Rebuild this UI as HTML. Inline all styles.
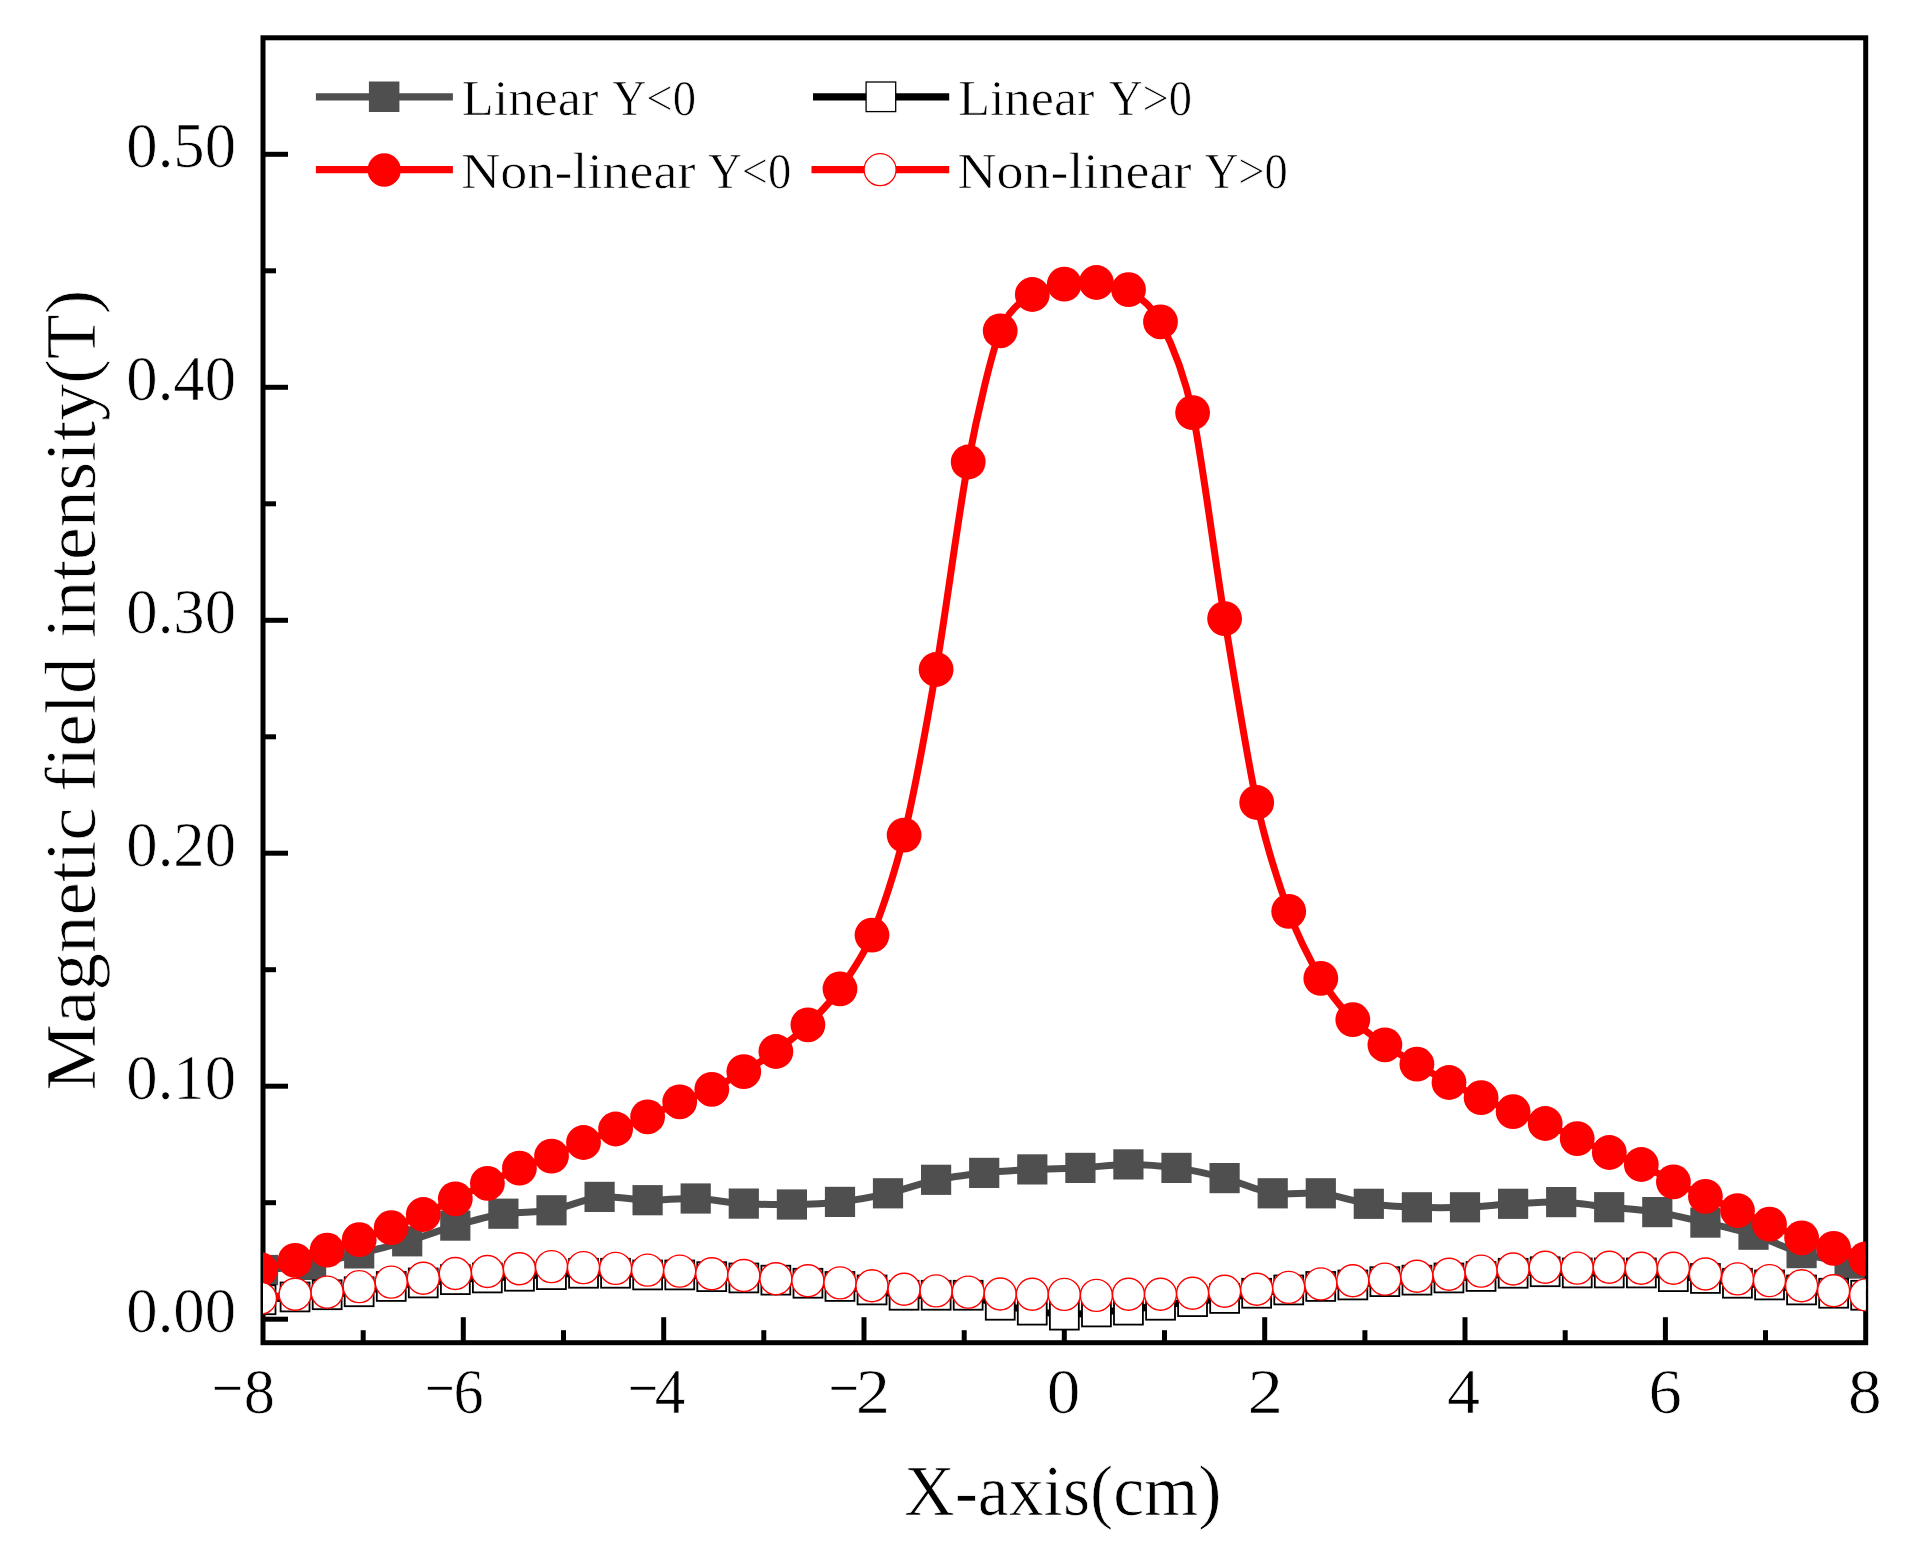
<!DOCTYPE html><html><head><meta charset="utf-8"><title>Magnetic field intensity</title>
<style>html,body{margin:0;padding:0;background:#fff}svg{display:block}text{font-family:"Liberation Serif",serif;fill:#000;stroke:#fff;stroke-width:0.7px}</style></head><body>
<svg width="1909" height="1549" viewBox="0 0 1909 1549">
<rect width="1909" height="1549" fill="#fff"/>
<defs><clipPath id="pc"><rect x="263.0" y="37.8" width="1602.7" height="1304.9"/></clipPath></defs>
<rect x="263.0" y="37.8" width="1602.7" height="1304.9" fill="none" stroke="#000" stroke-width="5"/>
<line x1="363.2" y1="1342.7" x2="363.2" y2="1330.2" stroke="#000" stroke-width="5"/>
<line x1="463.3" y1="1342.7" x2="463.3" y2="1317.2" stroke="#000" stroke-width="5"/>
<line x1="563.5" y1="1342.7" x2="563.5" y2="1330.2" stroke="#000" stroke-width="5"/>
<line x1="663.7" y1="1342.7" x2="663.7" y2="1317.2" stroke="#000" stroke-width="5"/>
<line x1="763.8" y1="1342.7" x2="763.8" y2="1330.2" stroke="#000" stroke-width="5"/>
<line x1="864.0" y1="1342.7" x2="864.0" y2="1317.2" stroke="#000" stroke-width="5"/>
<line x1="964.2" y1="1342.7" x2="964.2" y2="1330.2" stroke="#000" stroke-width="5"/>
<line x1="1064.3" y1="1342.7" x2="1064.3" y2="1317.2" stroke="#000" stroke-width="5"/>
<line x1="1164.5" y1="1342.7" x2="1164.5" y2="1330.2" stroke="#000" stroke-width="5"/>
<line x1="1264.7" y1="1342.7" x2="1264.7" y2="1317.2" stroke="#000" stroke-width="5"/>
<line x1="1364.9" y1="1342.7" x2="1364.9" y2="1330.2" stroke="#000" stroke-width="5"/>
<line x1="1465.0" y1="1342.7" x2="1465.0" y2="1317.2" stroke="#000" stroke-width="5"/>
<line x1="1565.2" y1="1342.7" x2="1565.2" y2="1330.2" stroke="#000" stroke-width="5"/>
<line x1="1665.4" y1="1342.7" x2="1665.4" y2="1317.2" stroke="#000" stroke-width="5"/>
<line x1="1765.5" y1="1342.7" x2="1765.5" y2="1330.2" stroke="#000" stroke-width="5"/>
<line x1="263.0" y1="1319.2" x2="288.0" y2="1319.2" stroke="#000" stroke-width="5"/>
<line x1="263.0" y1="1202.7" x2="276.0" y2="1202.7" stroke="#000" stroke-width="5"/>
<line x1="263.0" y1="1086.2" x2="288.0" y2="1086.2" stroke="#000" stroke-width="5"/>
<line x1="263.0" y1="969.7" x2="276.0" y2="969.7" stroke="#000" stroke-width="5"/>
<line x1="263.0" y1="853.2" x2="288.0" y2="853.2" stroke="#000" stroke-width="5"/>
<line x1="263.0" y1="736.8" x2="276.0" y2="736.8" stroke="#000" stroke-width="5"/>
<line x1="263.0" y1="620.3" x2="288.0" y2="620.3" stroke="#000" stroke-width="5"/>
<line x1="263.0" y1="503.8" x2="276.0" y2="503.8" stroke="#000" stroke-width="5"/>
<line x1="263.0" y1="387.3" x2="288.0" y2="387.3" stroke="#000" stroke-width="5"/>
<line x1="263.0" y1="270.8" x2="276.0" y2="270.8" stroke="#000" stroke-width="5"/>
<line x1="263.0" y1="154.3" x2="288.0" y2="154.3" stroke="#000" stroke-width="5"/>
<g clip-path="url(#pc)">
<path d="M263.0 1270.0C269.7 1269.3 297.6 1267.2 311.1 1264.9C324.5 1262.6 345.7 1256.7 359.2 1253.4C372.6 1250.1 393.8 1245.2 407.2 1241.3C420.7 1237.4 441.9 1229.5 455.3 1225.6C468.8 1221.7 489.9 1215.8 503.4 1213.7C516.9 1211.6 538.0 1212.7 551.5 1210.3C564.9 1207.9 586.1 1198.3 599.6 1196.9C613.0 1195.5 634.2 1200.0 647.6 1200.2C661.1 1200.4 682.3 1198.0 695.7 1198.5C709.2 1199.0 730.3 1202.8 743.8 1203.6C757.3 1204.4 778.4 1204.7 791.9 1204.5C805.3 1204.3 826.5 1203.5 840.0 1201.9C853.4 1200.3 874.6 1196.4 888.0 1193.3C901.5 1190.2 922.7 1182.7 936.1 1179.8C949.6 1176.9 970.7 1174.4 984.2 1172.9C997.7 1171.4 1018.8 1170.1 1032.3 1169.4C1045.7 1168.7 1066.9 1168.6 1080.4 1167.9C1093.8 1167.2 1115.0 1164.4 1128.4 1164.4C1141.9 1164.4 1163.1 1166.0 1176.5 1167.9C1190.0 1169.8 1211.1 1174.5 1224.6 1178.1C1238.1 1181.7 1259.2 1191.2 1272.7 1193.3C1286.1 1195.4 1307.3 1191.8 1320.8 1193.3C1334.2 1194.8 1355.4 1201.8 1368.8 1203.8C1382.3 1205.8 1403.5 1206.8 1416.9 1207.3C1430.4 1207.8 1451.5 1207.8 1465.0 1207.3C1478.5 1206.8 1499.6 1204.5 1513.1 1203.8C1526.5 1203.1 1547.7 1201.6 1561.2 1202.1C1574.6 1202.6 1595.8 1205.8 1609.2 1207.2C1622.7 1208.6 1643.9 1209.9 1657.3 1212.1C1670.8 1214.3 1691.9 1219.4 1705.4 1222.6C1718.9 1225.8 1740.0 1230.4 1753.5 1234.7C1766.9 1239.0 1788.1 1249.1 1801.6 1253.1C1815.0 1257.1 1842.9 1262.1 1849.6 1263.6" fill="none" stroke="#4f4f4f" stroke-width="7" stroke-linejoin="round"/>
<rect x="247.9" y="1254.9" width="30.2" height="30.2" fill="#4f4f4f"/>
<rect x="296.0" y="1249.8" width="30.2" height="30.2" fill="#4f4f4f"/>
<rect x="344.1" y="1238.3" width="30.2" height="30.2" fill="#4f4f4f"/>
<rect x="392.1" y="1226.2" width="30.2" height="30.2" fill="#4f4f4f"/>
<rect x="440.2" y="1210.5" width="30.2" height="30.2" fill="#4f4f4f"/>
<rect x="488.3" y="1198.6" width="30.2" height="30.2" fill="#4f4f4f"/>
<rect x="536.4" y="1195.2" width="30.2" height="30.2" fill="#4f4f4f"/>
<rect x="584.5" y="1181.8" width="30.2" height="30.2" fill="#4f4f4f"/>
<rect x="632.5" y="1185.1" width="30.2" height="30.2" fill="#4f4f4f"/>
<rect x="680.6" y="1183.4" width="30.2" height="30.2" fill="#4f4f4f"/>
<rect x="728.7" y="1188.5" width="30.2" height="30.2" fill="#4f4f4f"/>
<rect x="776.8" y="1189.4" width="30.2" height="30.2" fill="#4f4f4f"/>
<rect x="824.9" y="1186.8" width="30.2" height="30.2" fill="#4f4f4f"/>
<rect x="872.9" y="1178.2" width="30.2" height="30.2" fill="#4f4f4f"/>
<rect x="921.0" y="1164.7" width="30.2" height="30.2" fill="#4f4f4f"/>
<rect x="969.1" y="1157.8" width="30.2" height="30.2" fill="#4f4f4f"/>
<rect x="1017.2" y="1154.3" width="30.2" height="30.2" fill="#4f4f4f"/>
<rect x="1065.3" y="1152.8" width="30.2" height="30.2" fill="#4f4f4f"/>
<rect x="1113.3" y="1149.3" width="30.2" height="30.2" fill="#4f4f4f"/>
<rect x="1161.4" y="1152.8" width="30.2" height="30.2" fill="#4f4f4f"/>
<rect x="1209.5" y="1163.0" width="30.2" height="30.2" fill="#4f4f4f"/>
<rect x="1257.6" y="1178.2" width="30.2" height="30.2" fill="#4f4f4f"/>
<rect x="1305.7" y="1178.2" width="30.2" height="30.2" fill="#4f4f4f"/>
<rect x="1353.7" y="1188.7" width="30.2" height="30.2" fill="#4f4f4f"/>
<rect x="1401.8" y="1192.2" width="30.2" height="30.2" fill="#4f4f4f"/>
<rect x="1449.9" y="1192.2" width="30.2" height="30.2" fill="#4f4f4f"/>
<rect x="1498.0" y="1188.7" width="30.2" height="30.2" fill="#4f4f4f"/>
<rect x="1546.1" y="1187.0" width="30.2" height="30.2" fill="#4f4f4f"/>
<rect x="1594.1" y="1192.1" width="30.2" height="30.2" fill="#4f4f4f"/>
<rect x="1642.2" y="1197.0" width="30.2" height="30.2" fill="#4f4f4f"/>
<rect x="1690.3" y="1207.5" width="30.2" height="30.2" fill="#4f4f4f"/>
<rect x="1738.4" y="1219.6" width="30.2" height="30.2" fill="#4f4f4f"/>
<rect x="1786.5" y="1238.0" width="30.2" height="30.2" fill="#4f4f4f"/>
<rect x="1834.5" y="1248.5" width="30.2" height="30.2" fill="#4f4f4f"/>
<path d="M261.0 1299.8C265.8 1299.4 285.8 1297.7 295.1 1297.0C304.3 1296.3 318.1 1295.5 327.1 1294.8C336.1 1294.1 350.2 1293.0 359.2 1291.8C368.1 1290.6 382.2 1287.6 391.2 1286.4C400.2 1285.2 414.3 1283.9 423.3 1283.0C432.2 1282.1 446.3 1280.4 455.3 1279.7C464.3 1279.0 478.4 1278.5 487.4 1278.0C496.4 1277.5 510.5 1276.8 519.4 1276.3C528.4 1275.8 542.5 1275.0 551.5 1274.6C560.5 1274.2 574.6 1273.4 583.5 1273.2C592.5 1273.0 606.6 1273.0 615.6 1273.2C624.6 1273.4 638.7 1274.7 647.6 1274.9C656.6 1275.1 670.7 1274.7 679.7 1274.9C688.7 1275.1 702.8 1276.2 711.8 1276.6C720.7 1277.0 734.8 1277.5 743.8 1278.0C752.8 1278.5 766.9 1279.4 775.9 1280.1C784.8 1280.8 798.9 1282.4 807.9 1283.3C816.9 1284.2 831.0 1285.5 840.0 1286.4C848.9 1287.3 863.1 1288.8 872.0 1290.0C881.0 1291.2 895.1 1294.5 904.1 1295.2C913.1 1295.9 927.2 1295.2 936.1 1295.2C945.1 1295.2 959.2 1293.8 968.2 1295.2C977.2 1296.6 991.3 1303.2 1000.2 1305.3C1009.2 1307.4 1023.3 1308.7 1032.3 1310.1C1041.3 1311.5 1055.4 1314.8 1064.3 1315.1C1073.3 1315.4 1087.4 1312.7 1096.4 1312.0C1105.4 1311.3 1119.5 1311.0 1128.5 1310.1C1137.4 1309.2 1151.5 1306.5 1160.5 1305.3C1169.5 1304.1 1183.6 1302.7 1192.6 1301.7C1201.5 1300.7 1215.6 1299.6 1224.6 1298.4C1233.6 1297.2 1247.7 1294.5 1256.7 1293.3C1265.6 1292.1 1279.8 1291.0 1288.7 1290.0C1297.7 1289.0 1311.8 1287.1 1320.8 1286.4C1329.8 1285.7 1343.9 1285.7 1352.8 1285.0C1361.8 1284.3 1375.9 1282.3 1384.9 1281.6C1393.9 1280.9 1408.0 1280.6 1416.9 1280.1C1425.9 1279.6 1440.0 1278.5 1449.0 1278.0C1458.0 1277.5 1472.1 1277.1 1481.1 1276.4C1490.0 1275.7 1504.1 1273.8 1513.1 1273.2C1522.1 1272.6 1536.2 1271.8 1545.2 1271.8C1554.1 1271.8 1568.2 1272.8 1577.2 1273.0C1586.2 1273.2 1600.3 1273.0 1609.3 1273.0C1618.2 1273.0 1632.3 1272.5 1641.3 1273.0C1650.3 1273.5 1664.4 1275.8 1673.4 1276.6C1682.4 1277.4 1696.5 1277.6 1705.4 1278.5C1714.4 1279.4 1728.5 1282.4 1737.5 1283.3C1746.5 1284.2 1760.6 1284.1 1769.5 1285.0C1778.5 1285.9 1792.6 1288.8 1801.6 1290.0C1810.6 1291.2 1824.7 1292.6 1833.6 1293.3C1842.6 1294.0 1861.2 1294.9 1865.7 1295.2" fill="none" stroke="#000" stroke-width="7"/>
<rect x="246.6" y="1285.3" width="28.9" height="28.9" fill="#fff" stroke="#000" stroke-width="1.8"/>
<rect x="280.6" y="1282.5" width="28.9" height="28.9" fill="#fff" stroke="#000" stroke-width="1.8"/>
<rect x="312.7" y="1280.3" width="28.9" height="28.9" fill="#fff" stroke="#000" stroke-width="1.8"/>
<rect x="344.7" y="1277.3" width="28.9" height="28.9" fill="#fff" stroke="#000" stroke-width="1.8"/>
<rect x="376.8" y="1272.0" width="28.9" height="28.9" fill="#fff" stroke="#000" stroke-width="1.8"/>
<rect x="408.8" y="1268.5" width="28.9" height="28.9" fill="#fff" stroke="#000" stroke-width="1.8"/>
<rect x="440.9" y="1265.2" width="28.9" height="28.9" fill="#fff" stroke="#000" stroke-width="1.8"/>
<rect x="472.9" y="1263.5" width="28.9" height="28.9" fill="#fff" stroke="#000" stroke-width="1.8"/>
<rect x="505.0" y="1261.8" width="28.9" height="28.9" fill="#fff" stroke="#000" stroke-width="1.8"/>
<rect x="537.0" y="1260.2" width="28.9" height="28.9" fill="#fff" stroke="#000" stroke-width="1.8"/>
<rect x="569.1" y="1258.8" width="28.9" height="28.9" fill="#fff" stroke="#000" stroke-width="1.8"/>
<rect x="601.1" y="1258.8" width="28.9" height="28.9" fill="#fff" stroke="#000" stroke-width="1.8"/>
<rect x="633.2" y="1260.5" width="28.9" height="28.9" fill="#fff" stroke="#000" stroke-width="1.8"/>
<rect x="665.3" y="1260.5" width="28.9" height="28.9" fill="#fff" stroke="#000" stroke-width="1.8"/>
<rect x="697.3" y="1262.2" width="28.9" height="28.9" fill="#fff" stroke="#000" stroke-width="1.8"/>
<rect x="729.4" y="1263.5" width="28.9" height="28.9" fill="#fff" stroke="#000" stroke-width="1.8"/>
<rect x="761.4" y="1265.7" width="28.9" height="28.9" fill="#fff" stroke="#000" stroke-width="1.8"/>
<rect x="793.5" y="1268.8" width="28.9" height="28.9" fill="#fff" stroke="#000" stroke-width="1.8"/>
<rect x="825.5" y="1272.0" width="28.9" height="28.9" fill="#fff" stroke="#000" stroke-width="1.8"/>
<rect x="857.6" y="1275.5" width="28.9" height="28.9" fill="#fff" stroke="#000" stroke-width="1.8"/>
<rect x="889.6" y="1280.8" width="28.9" height="28.9" fill="#fff" stroke="#000" stroke-width="1.8"/>
<rect x="921.7" y="1280.8" width="28.9" height="28.9" fill="#fff" stroke="#000" stroke-width="1.8"/>
<rect x="953.7" y="1280.8" width="28.9" height="28.9" fill="#fff" stroke="#000" stroke-width="1.8"/>
<rect x="985.8" y="1290.8" width="28.9" height="28.9" fill="#fff" stroke="#000" stroke-width="1.8"/>
<rect x="1017.8" y="1295.7" width="28.9" height="28.9" fill="#fff" stroke="#000" stroke-width="1.8"/>
<rect x="1049.9" y="1300.7" width="28.9" height="28.9" fill="#fff" stroke="#000" stroke-width="1.8"/>
<rect x="1082.0" y="1297.5" width="28.9" height="28.9" fill="#fff" stroke="#000" stroke-width="1.8"/>
<rect x="1114.0" y="1295.7" width="28.9" height="28.9" fill="#fff" stroke="#000" stroke-width="1.8"/>
<rect x="1146.1" y="1290.8" width="28.9" height="28.9" fill="#fff" stroke="#000" stroke-width="1.8"/>
<rect x="1178.1" y="1287.2" width="28.9" height="28.9" fill="#fff" stroke="#000" stroke-width="1.8"/>
<rect x="1210.2" y="1284.0" width="28.9" height="28.9" fill="#fff" stroke="#000" stroke-width="1.8"/>
<rect x="1242.2" y="1278.8" width="28.9" height="28.9" fill="#fff" stroke="#000" stroke-width="1.8"/>
<rect x="1274.3" y="1275.5" width="28.9" height="28.9" fill="#fff" stroke="#000" stroke-width="1.8"/>
<rect x="1306.3" y="1272.0" width="28.9" height="28.9" fill="#fff" stroke="#000" stroke-width="1.8"/>
<rect x="1338.4" y="1270.5" width="28.9" height="28.9" fill="#fff" stroke="#000" stroke-width="1.8"/>
<rect x="1370.4" y="1267.2" width="28.9" height="28.9" fill="#fff" stroke="#000" stroke-width="1.8"/>
<rect x="1402.5" y="1265.7" width="28.9" height="28.9" fill="#fff" stroke="#000" stroke-width="1.8"/>
<rect x="1434.5" y="1263.5" width="28.9" height="28.9" fill="#fff" stroke="#000" stroke-width="1.8"/>
<rect x="1466.6" y="1262.0" width="28.9" height="28.9" fill="#fff" stroke="#000" stroke-width="1.8"/>
<rect x="1498.7" y="1258.8" width="28.9" height="28.9" fill="#fff" stroke="#000" stroke-width="1.8"/>
<rect x="1530.7" y="1257.3" width="28.9" height="28.9" fill="#fff" stroke="#000" stroke-width="1.8"/>
<rect x="1562.8" y="1258.5" width="28.9" height="28.9" fill="#fff" stroke="#000" stroke-width="1.8"/>
<rect x="1594.8" y="1258.5" width="28.9" height="28.9" fill="#fff" stroke="#000" stroke-width="1.8"/>
<rect x="1626.9" y="1258.5" width="28.9" height="28.9" fill="#fff" stroke="#000" stroke-width="1.8"/>
<rect x="1658.9" y="1262.2" width="28.9" height="28.9" fill="#fff" stroke="#000" stroke-width="1.8"/>
<rect x="1691.0" y="1264.0" width="28.9" height="28.9" fill="#fff" stroke="#000" stroke-width="1.8"/>
<rect x="1723.0" y="1268.8" width="28.9" height="28.9" fill="#fff" stroke="#000" stroke-width="1.8"/>
<rect x="1755.1" y="1270.5" width="28.9" height="28.9" fill="#fff" stroke="#000" stroke-width="1.8"/>
<rect x="1787.1" y="1275.5" width="28.9" height="28.9" fill="#fff" stroke="#000" stroke-width="1.8"/>
<rect x="1819.2" y="1278.8" width="28.9" height="28.9" fill="#fff" stroke="#000" stroke-width="1.8"/>
<rect x="1851.2" y="1280.8" width="28.9" height="28.9" fill="#fff" stroke="#000" stroke-width="1.8"/>
<path d="M260.5 1269.5C265.3 1268.2 285.7 1263.1 295.1 1260.4C304.4 1257.7 318.1 1253.1 327.1 1250.2C336.1 1247.3 350.2 1242.9 359.2 1239.7C368.1 1236.5 382.2 1231.2 391.2 1227.7C400.2 1224.2 414.3 1218.5 423.3 1214.5C432.2 1210.5 446.3 1203.2 455.3 1198.8C464.3 1194.4 478.4 1187.6 487.4 1183.3C496.4 1179.0 510.5 1172.0 519.4 1168.2C528.4 1164.4 542.5 1159.7 551.5 1156.1C560.5 1152.5 574.6 1146.3 583.5 1142.5C592.5 1138.7 606.6 1132.6 615.6 1129.0C624.6 1125.4 638.7 1120.6 647.6 1116.8C656.6 1113.0 670.7 1105.6 679.7 1101.8C688.7 1098.0 702.8 1093.5 711.8 1089.3C720.7 1085.1 734.8 1076.9 743.8 1071.6C752.8 1066.3 766.9 1058.1 775.9 1051.5C784.8 1044.9 798.9 1033.6 807.9 1024.8C816.9 1016.0 831.0 1001.5 840.0 988.9C848.9 976.3 863.1 956.6 872.0 935.1C881.0 913.6 895.1 872.3 904.1 835.1C913.1 797.9 927.2 721.7 936.1 669.5C945.1 617.3 959.2 509.4 968.2 462.0C977.2 414.6 991.3 354.2 1000.2 330.8C1009.2 307.4 1023.3 301.0 1032.3 294.5C1041.3 288.0 1055.4 285.8 1064.3 284.1C1073.3 282.4 1087.4 281.7 1096.4 282.5C1105.4 283.3 1119.5 284.2 1128.5 289.7C1137.4 295.2 1151.5 304.6 1160.5 321.8C1169.5 339.0 1183.6 371.0 1192.6 412.6C1201.5 454.2 1215.6 564.0 1224.6 618.6C1233.6 673.2 1247.7 761.5 1256.7 802.5C1265.6 843.5 1279.8 886.8 1288.7 911.4C1297.7 936.0 1311.8 963.2 1320.8 978.4C1329.8 993.6 1343.9 1010.4 1352.8 1019.7C1361.8 1029.0 1375.9 1038.6 1384.9 1044.8C1393.9 1051.0 1408.0 1058.9 1416.9 1064.2C1425.9 1069.5 1440.0 1077.8 1449.0 1082.5C1458.0 1087.2 1472.1 1093.6 1481.1 1097.7C1490.0 1101.8 1504.1 1108.1 1513.1 1111.7C1522.1 1115.3 1536.2 1119.7 1545.2 1123.5C1554.1 1127.3 1568.2 1134.5 1577.2 1138.6C1586.2 1142.7 1600.3 1148.9 1609.3 1152.5C1618.2 1156.1 1632.3 1160.4 1641.3 1164.5C1650.3 1168.6 1664.4 1177.4 1673.4 1181.9C1682.4 1186.4 1696.5 1192.3 1705.4 1196.3C1714.4 1200.3 1728.5 1206.7 1737.5 1210.6C1746.5 1214.5 1760.6 1220.4 1769.5 1224.2C1778.5 1228.0 1792.6 1234.4 1801.6 1237.8C1810.6 1241.2 1824.7 1245.4 1833.6 1248.3C1842.6 1251.2 1861.2 1257.3 1865.7 1258.8" fill="none" stroke="#ff0000" stroke-width="7" stroke-linejoin="round"/>
<circle cx="260.5" cy="1269.5" r="17.4" fill="#ff0000"/>
<circle cx="295.1" cy="1260.4" r="17.4" fill="#ff0000"/>
<circle cx="327.1" cy="1250.2" r="17.4" fill="#ff0000"/>
<circle cx="359.2" cy="1239.7" r="17.4" fill="#ff0000"/>
<circle cx="391.2" cy="1227.7" r="17.4" fill="#ff0000"/>
<circle cx="423.3" cy="1214.5" r="17.4" fill="#ff0000"/>
<circle cx="455.3" cy="1198.8" r="17.4" fill="#ff0000"/>
<circle cx="487.4" cy="1183.3" r="17.4" fill="#ff0000"/>
<circle cx="519.4" cy="1168.2" r="17.4" fill="#ff0000"/>
<circle cx="551.5" cy="1156.1" r="17.4" fill="#ff0000"/>
<circle cx="583.5" cy="1142.5" r="17.4" fill="#ff0000"/>
<circle cx="615.6" cy="1129.0" r="17.4" fill="#ff0000"/>
<circle cx="647.6" cy="1116.8" r="17.4" fill="#ff0000"/>
<circle cx="679.7" cy="1101.8" r="17.4" fill="#ff0000"/>
<circle cx="711.8" cy="1089.3" r="17.4" fill="#ff0000"/>
<circle cx="743.8" cy="1071.6" r="17.4" fill="#ff0000"/>
<circle cx="775.9" cy="1051.5" r="17.4" fill="#ff0000"/>
<circle cx="807.9" cy="1024.8" r="17.4" fill="#ff0000"/>
<circle cx="840.0" cy="988.9" r="17.4" fill="#ff0000"/>
<circle cx="872.0" cy="935.1" r="17.4" fill="#ff0000"/>
<circle cx="904.1" cy="835.1" r="17.4" fill="#ff0000"/>
<circle cx="936.1" cy="669.5" r="17.4" fill="#ff0000"/>
<circle cx="968.2" cy="462.0" r="17.4" fill="#ff0000"/>
<circle cx="1000.2" cy="330.8" r="17.4" fill="#ff0000"/>
<circle cx="1032.3" cy="294.5" r="17.4" fill="#ff0000"/>
<circle cx="1064.3" cy="284.1" r="17.4" fill="#ff0000"/>
<circle cx="1096.4" cy="282.5" r="17.4" fill="#ff0000"/>
<circle cx="1128.5" cy="289.7" r="17.4" fill="#ff0000"/>
<circle cx="1160.5" cy="321.8" r="17.4" fill="#ff0000"/>
<circle cx="1192.6" cy="412.6" r="17.4" fill="#ff0000"/>
<circle cx="1224.6" cy="618.6" r="17.4" fill="#ff0000"/>
<circle cx="1256.7" cy="802.5" r="17.4" fill="#ff0000"/>
<circle cx="1288.7" cy="911.4" r="17.4" fill="#ff0000"/>
<circle cx="1320.8" cy="978.4" r="17.4" fill="#ff0000"/>
<circle cx="1352.8" cy="1019.7" r="17.4" fill="#ff0000"/>
<circle cx="1384.9" cy="1044.8" r="17.4" fill="#ff0000"/>
<circle cx="1416.9" cy="1064.2" r="17.4" fill="#ff0000"/>
<circle cx="1449.0" cy="1082.5" r="17.4" fill="#ff0000"/>
<circle cx="1481.1" cy="1097.7" r="17.4" fill="#ff0000"/>
<circle cx="1513.1" cy="1111.7" r="17.4" fill="#ff0000"/>
<circle cx="1545.2" cy="1123.5" r="17.4" fill="#ff0000"/>
<circle cx="1577.2" cy="1138.6" r="17.4" fill="#ff0000"/>
<circle cx="1609.3" cy="1152.5" r="17.4" fill="#ff0000"/>
<circle cx="1641.3" cy="1164.5" r="17.4" fill="#ff0000"/>
<circle cx="1673.4" cy="1181.9" r="17.4" fill="#ff0000"/>
<circle cx="1705.4" cy="1196.3" r="17.4" fill="#ff0000"/>
<circle cx="1737.5" cy="1210.6" r="17.4" fill="#ff0000"/>
<circle cx="1769.5" cy="1224.2" r="17.4" fill="#ff0000"/>
<circle cx="1801.6" cy="1237.8" r="17.4" fill="#ff0000"/>
<circle cx="1833.6" cy="1248.3" r="17.4" fill="#ff0000"/>
<circle cx="1865.7" cy="1258.8" r="17.4" fill="#ff0000"/>
<path d="M260.5 1298.2C265.3 1297.7 285.7 1295.2 295.1 1294.3C304.4 1293.4 318.1 1293.2 327.1 1292.1C336.1 1291.0 350.2 1288.0 359.2 1286.6C368.1 1285.2 382.2 1283.3 391.2 1282.1C400.2 1280.9 414.3 1279.4 423.3 1278.2C432.2 1277.0 446.3 1274.4 455.3 1273.5C464.3 1272.6 478.4 1272.2 487.4 1271.5C496.4 1270.8 510.5 1269.4 519.4 1268.7C528.4 1268.0 542.5 1266.8 551.5 1266.6C560.5 1266.4 574.6 1267.3 583.5 1267.6C592.5 1267.9 606.6 1268.1 615.6 1268.4C624.6 1268.8 638.7 1269.7 647.6 1270.1C656.6 1270.5 670.7 1270.6 679.7 1271.1C688.7 1271.6 702.8 1273.2 711.8 1273.8C720.7 1274.4 734.8 1274.8 743.8 1275.5C752.8 1276.2 766.9 1278.0 775.9 1278.7C784.8 1279.4 798.9 1280.2 807.9 1280.8C816.9 1281.4 831.0 1282.2 840.0 1282.9C848.9 1283.6 863.1 1284.9 872.0 1285.8C881.0 1286.7 895.1 1288.5 904.1 1289.2C913.1 1289.9 927.2 1290.5 936.1 1290.9C945.1 1291.3 959.2 1291.7 968.2 1292.1C977.2 1292.5 991.3 1293.7 1000.2 1294.0C1009.2 1294.3 1023.3 1294.1 1032.3 1294.2C1041.3 1294.3 1055.4 1294.2 1064.3 1294.4C1073.3 1294.6 1087.4 1295.4 1096.4 1295.4C1105.4 1295.4 1119.5 1294.4 1128.5 1294.2C1137.4 1294.0 1151.5 1294.3 1160.5 1294.2C1169.5 1294.1 1183.6 1293.7 1192.6 1293.3C1201.5 1292.9 1215.6 1291.8 1224.6 1291.2C1233.6 1290.6 1247.7 1289.7 1256.7 1289.2C1265.6 1288.7 1279.8 1288.1 1288.7 1287.4C1297.7 1286.7 1311.8 1284.8 1320.8 1283.9C1329.8 1283.0 1343.9 1281.5 1352.8 1280.8C1361.8 1280.1 1375.9 1279.7 1384.9 1279.1C1393.9 1278.5 1408.0 1277.0 1416.9 1276.3C1425.9 1275.6 1440.0 1274.9 1449.0 1274.2C1458.0 1273.5 1472.1 1271.8 1481.1 1271.1C1490.0 1270.4 1504.1 1269.5 1513.1 1269.0C1522.1 1268.5 1536.2 1267.3 1545.2 1267.2C1554.1 1267.1 1568.2 1268.1 1577.2 1268.1C1586.2 1268.1 1600.3 1267.3 1609.3 1267.3C1618.2 1267.3 1632.3 1268.1 1641.3 1268.2C1650.3 1268.3 1664.4 1267.4 1673.4 1268.2C1682.4 1269.0 1696.5 1272.5 1705.4 1274.0C1714.4 1275.5 1728.5 1278.0 1737.5 1278.9C1746.5 1279.8 1760.6 1279.6 1769.5 1280.6C1778.5 1281.6 1792.6 1284.4 1801.6 1285.8C1810.6 1287.2 1824.7 1289.4 1833.6 1290.7C1842.6 1292.0 1861.2 1294.3 1865.7 1294.9" fill="none" stroke="#ff0000" stroke-width="7"/>
<circle cx="260.5" cy="1298.2" r="16.0" fill="#fff" stroke="#ff0000" stroke-width="1.4"/>
<circle cx="295.1" cy="1294.3" r="16.0" fill="#fff" stroke="#ff0000" stroke-width="1.4"/>
<circle cx="327.1" cy="1292.1" r="16.0" fill="#fff" stroke="#ff0000" stroke-width="1.4"/>
<circle cx="359.2" cy="1286.6" r="16.0" fill="#fff" stroke="#ff0000" stroke-width="1.4"/>
<circle cx="391.2" cy="1282.1" r="16.0" fill="#fff" stroke="#ff0000" stroke-width="1.4"/>
<circle cx="423.3" cy="1278.2" r="16.0" fill="#fff" stroke="#ff0000" stroke-width="1.4"/>
<circle cx="455.3" cy="1273.5" r="16.0" fill="#fff" stroke="#ff0000" stroke-width="1.4"/>
<circle cx="487.4" cy="1271.5" r="16.0" fill="#fff" stroke="#ff0000" stroke-width="1.4"/>
<circle cx="519.4" cy="1268.7" r="16.0" fill="#fff" stroke="#ff0000" stroke-width="1.4"/>
<circle cx="551.5" cy="1266.6" r="16.0" fill="#fff" stroke="#ff0000" stroke-width="1.4"/>
<circle cx="583.5" cy="1267.6" r="16.0" fill="#fff" stroke="#ff0000" stroke-width="1.4"/>
<circle cx="615.6" cy="1268.4" r="16.0" fill="#fff" stroke="#ff0000" stroke-width="1.4"/>
<circle cx="647.6" cy="1270.1" r="16.0" fill="#fff" stroke="#ff0000" stroke-width="1.4"/>
<circle cx="679.7" cy="1271.1" r="16.0" fill="#fff" stroke="#ff0000" stroke-width="1.4"/>
<circle cx="711.8" cy="1273.8" r="16.0" fill="#fff" stroke="#ff0000" stroke-width="1.4"/>
<circle cx="743.8" cy="1275.5" r="16.0" fill="#fff" stroke="#ff0000" stroke-width="1.4"/>
<circle cx="775.9" cy="1278.7" r="16.0" fill="#fff" stroke="#ff0000" stroke-width="1.4"/>
<circle cx="807.9" cy="1280.8" r="16.0" fill="#fff" stroke="#ff0000" stroke-width="1.4"/>
<circle cx="840.0" cy="1282.9" r="16.0" fill="#fff" stroke="#ff0000" stroke-width="1.4"/>
<circle cx="872.0" cy="1285.8" r="16.0" fill="#fff" stroke="#ff0000" stroke-width="1.4"/>
<circle cx="904.1" cy="1289.2" r="16.0" fill="#fff" stroke="#ff0000" stroke-width="1.4"/>
<circle cx="936.1" cy="1290.9" r="16.0" fill="#fff" stroke="#ff0000" stroke-width="1.4"/>
<circle cx="968.2" cy="1292.1" r="16.0" fill="#fff" stroke="#ff0000" stroke-width="1.4"/>
<circle cx="1000.2" cy="1294.0" r="16.0" fill="#fff" stroke="#ff0000" stroke-width="1.4"/>
<circle cx="1032.3" cy="1294.2" r="16.0" fill="#fff" stroke="#ff0000" stroke-width="1.4"/>
<circle cx="1064.3" cy="1294.4" r="16.0" fill="#fff" stroke="#ff0000" stroke-width="1.4"/>
<circle cx="1096.4" cy="1295.4" r="16.0" fill="#fff" stroke="#ff0000" stroke-width="1.4"/>
<circle cx="1128.5" cy="1294.2" r="16.0" fill="#fff" stroke="#ff0000" stroke-width="1.4"/>
<circle cx="1160.5" cy="1294.2" r="16.0" fill="#fff" stroke="#ff0000" stroke-width="1.4"/>
<circle cx="1192.6" cy="1293.3" r="16.0" fill="#fff" stroke="#ff0000" stroke-width="1.4"/>
<circle cx="1224.6" cy="1291.2" r="16.0" fill="#fff" stroke="#ff0000" stroke-width="1.4"/>
<circle cx="1256.7" cy="1289.2" r="16.0" fill="#fff" stroke="#ff0000" stroke-width="1.4"/>
<circle cx="1288.7" cy="1287.4" r="16.0" fill="#fff" stroke="#ff0000" stroke-width="1.4"/>
<circle cx="1320.8" cy="1283.9" r="16.0" fill="#fff" stroke="#ff0000" stroke-width="1.4"/>
<circle cx="1352.8" cy="1280.8" r="16.0" fill="#fff" stroke="#ff0000" stroke-width="1.4"/>
<circle cx="1384.9" cy="1279.1" r="16.0" fill="#fff" stroke="#ff0000" stroke-width="1.4"/>
<circle cx="1416.9" cy="1276.3" r="16.0" fill="#fff" stroke="#ff0000" stroke-width="1.4"/>
<circle cx="1449.0" cy="1274.2" r="16.0" fill="#fff" stroke="#ff0000" stroke-width="1.4"/>
<circle cx="1481.1" cy="1271.1" r="16.0" fill="#fff" stroke="#ff0000" stroke-width="1.4"/>
<circle cx="1513.1" cy="1269.0" r="16.0" fill="#fff" stroke="#ff0000" stroke-width="1.4"/>
<circle cx="1545.2" cy="1267.2" r="16.0" fill="#fff" stroke="#ff0000" stroke-width="1.4"/>
<circle cx="1577.2" cy="1268.1" r="16.0" fill="#fff" stroke="#ff0000" stroke-width="1.4"/>
<circle cx="1609.3" cy="1267.3" r="16.0" fill="#fff" stroke="#ff0000" stroke-width="1.4"/>
<circle cx="1641.3" cy="1268.2" r="16.0" fill="#fff" stroke="#ff0000" stroke-width="1.4"/>
<circle cx="1673.4" cy="1268.2" r="16.0" fill="#fff" stroke="#ff0000" stroke-width="1.4"/>
<circle cx="1705.4" cy="1274.0" r="16.0" fill="#fff" stroke="#ff0000" stroke-width="1.4"/>
<circle cx="1737.5" cy="1278.9" r="16.0" fill="#fff" stroke="#ff0000" stroke-width="1.4"/>
<circle cx="1769.5" cy="1280.6" r="16.0" fill="#fff" stroke="#ff0000" stroke-width="1.4"/>
<circle cx="1801.6" cy="1285.8" r="16.0" fill="#fff" stroke="#ff0000" stroke-width="1.4"/>
<circle cx="1833.6" cy="1290.7" r="16.0" fill="#fff" stroke="#ff0000" stroke-width="1.4"/>
<circle cx="1865.7" cy="1294.9" r="16.0" fill="#fff" stroke="#ff0000" stroke-width="1.4"/>
</g>
<text x="126.31" y="1331.80" font-size="64" textLength="109.67" lengthAdjust="spacingAndGlyphs">0.00</text>
<text x="126.31" y="1098.82" font-size="64" textLength="109.67" lengthAdjust="spacingAndGlyphs">0.10</text>
<text x="126.31" y="865.84" font-size="64" textLength="109.67" lengthAdjust="spacingAndGlyphs">0.20</text>
<text x="126.31" y="632.86" font-size="64" textLength="109.67" lengthAdjust="spacingAndGlyphs">0.30</text>
<text x="126.31" y="399.88" font-size="64" textLength="109.67" lengthAdjust="spacingAndGlyphs">0.40</text>
<text x="126.31" y="166.90" font-size="64" textLength="109.67" lengthAdjust="spacingAndGlyphs">0.50</text>
<text x="243.82" y="1413.30" font-size="64" textLength="31.26" lengthAdjust="spacingAndGlyphs">8</text>
<text x="211.63" y="1413.40" font-size="74" textLength="31.39" lengthAdjust="spacingAndGlyphs" stroke="none" fill="#222">−</text>
<text x="453.41" y="1413.30" font-size="64" textLength="30.19" lengthAdjust="spacingAndGlyphs">6</text>
<text x="425.08" y="1413.40" font-size="74" textLength="29.69" lengthAdjust="spacingAndGlyphs" stroke="none" fill="#222">−</text>
<text x="654.81" y="1413.30" font-size="64" textLength="30.55" lengthAdjust="spacingAndGlyphs">4</text>
<text x="627.81" y="1413.40" font-size="74" textLength="30.42" lengthAdjust="spacingAndGlyphs" stroke="none" fill="#222">−</text>
<text x="855.69" y="1413.30" font-size="64" textLength="34.30" lengthAdjust="spacingAndGlyphs">2</text>
<text x="828.51" y="1413.40" font-size="74" textLength="30.42" lengthAdjust="spacingAndGlyphs" stroke="none" fill="#222">−</text>
<text x="1046.84" y="1413.30" font-size="64" textLength="33.62" lengthAdjust="spacingAndGlyphs">0</text>
<text x="1247.48" y="1413.30" font-size="64" textLength="35.55" lengthAdjust="spacingAndGlyphs">2</text>
<text x="1447.01" y="1413.30" font-size="64" textLength="33.02" lengthAdjust="spacingAndGlyphs">4</text>
<text x="1648.43" y="1413.30" font-size="64" textLength="33.35" lengthAdjust="spacingAndGlyphs">6</text>
<text x="1848.04" y="1413.30" font-size="64" textLength="33.62" lengthAdjust="spacingAndGlyphs">8</text>
<text x="904.37" y="1515.20" font-size="71" textLength="317.09" lengthAdjust="spacingAndGlyphs">X-axis(cm)</text>
<g transform="translate(95.1,1088.3) rotate(-90)">
<text x="-2.16" y="0.00" font-size="71" textLength="283.07" lengthAdjust="spacingAndGlyphs">Magnetic</text>
<text x="296.85" y="0.00" font-size="71" textLength="134.04" lengthAdjust="spacingAndGlyphs">field</text>
<text x="450.35" y="0.00" font-size="71" textLength="348.29" lengthAdjust="spacingAndGlyphs">intensity(T)</text>
</g>
<line x1="315.9" y1="96.8" x2="452.9" y2="96.8" stroke="#4f4f4f" stroke-width="7.2"/>
<rect x="368.9" y="81.5" width="30.5" height="30.5" fill="#4f4f4f"/>
<text x="461.69" y="115.10" font-size="50" textLength="136.77" lengthAdjust="spacingAndGlyphs">Linear</text>
<text x="612.58" y="115.10" font-size="50" textLength="83.40" lengthAdjust="spacingAndGlyphs">Y&lt;0</text>
<line x1="813.0" y1="96.8" x2="949.2" y2="96.8" stroke="#000" stroke-width="7.2"/>
<rect x="866.1" y="82.0" width="29.6" height="29.6" fill="#fff" stroke="#000" stroke-width="1.3"/>
<text x="958.20" y="115.10" font-size="50" textLength="136.26" lengthAdjust="spacingAndGlyphs">Linear</text>
<text x="1108.88" y="115.10" font-size="50" textLength="82.99" lengthAdjust="spacingAndGlyphs">Y&gt;0</text>
<line x1="315.9" y1="169.7" x2="452.9" y2="169.7" stroke="#ff0000" stroke-width="7.2"/>
<circle cx="384.2" cy="170.0" r="16.7" fill="#ff0000"/>
<text x="461.24" y="188.00" font-size="50" textLength="234.33" lengthAdjust="spacingAndGlyphs">Non-linear</text>
<text x="708.18" y="188.00" font-size="50" textLength="82.99" lengthAdjust="spacingAndGlyphs">Y&lt;0</text>
<line x1="811.5" y1="169.7" x2="949.2" y2="169.7" stroke="#ff0000" stroke-width="7.2"/>
<circle cx="880.1" cy="169.7" r="16" fill="#fff" stroke="#ff0000" stroke-width="1.3"/>
<text x="957.54" y="188.00" font-size="50" textLength="234.03" lengthAdjust="spacingAndGlyphs">Non-linear</text>
<text x="1204.68" y="188.00" font-size="50" textLength="82.99" lengthAdjust="spacingAndGlyphs">Y&gt;0</text>
</svg></body></html>
